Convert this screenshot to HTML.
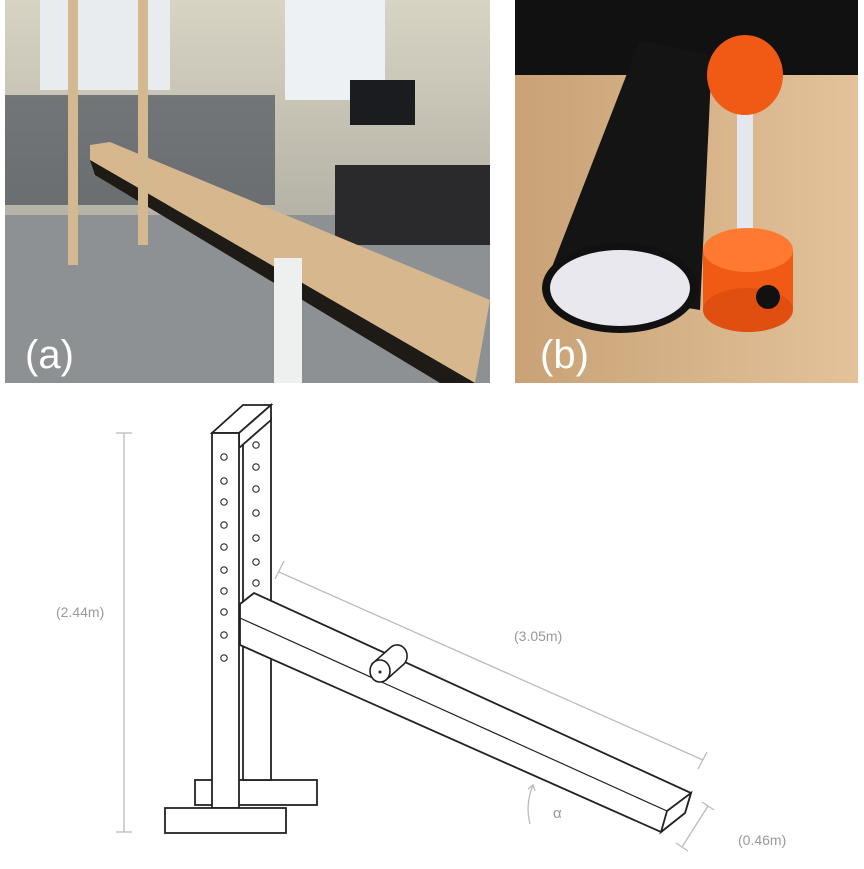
<!DOCTYPE html>
<html><head><style>
body{margin:0;background:#fff;width:864px;height:864px;overflow:hidden;font-family:"Liberation Sans",sans-serif}
</style></head><body>
<svg width="864" height="864" viewBox="0 0 864 864" xmlns="http://www.w3.org/2000/svg">
<!-- photo a -->
<defs>
<linearGradient id="wall" x1="0" y1="0" x2="0" y2="1"><stop offset="0" stop-color="#d8d4c4"/><stop offset="1" stop-color="#9a9890"/></linearGradient>
<linearGradient id="tbl" x1="0" y1="0" x2="1" y2="0"><stop offset="0" stop-color="#c9a276"/><stop offset="1" stop-color="#e3c29a"/></linearGradient>
</defs>
<rect x="5" y="0" width="485" height="383" fill="url(#wall)"/>
<rect x="5" y="215" width="485" height="168" fill="#8e9194"/>
<rect x="40" y="0" width="130" height="90" fill="#e8ecef"/>
<rect x="285" y="0" width="100" height="100" fill="#eef1f3"/>
<rect x="5" y="95" width="270" height="110" fill="#2c3444" opacity="0.55"/>
<rect x="335" y="165" width="155" height="80" fill="#2a2a2c"/>
<rect x="350" y="80" width="65" height="45" fill="#1a1c20"/>
<polygon points="90,145 110,142 490,300 475,383 90,160" fill="#d7b88e"/>
<polygon points="90,160 475,383 440,383 95,175" fill="#1e1a16"/>
<rect x="68" y="0" width="10" height="265" fill="#d4b890"/>
<rect x="138" y="0" width="10" height="245" fill="#d4b890"/>
<rect x="274" y="258" width="28" height="125" fill="#eef0f0"/>
<text x="25" y="368" font-size="40" fill="#fff">(a)</text>
<!-- photo b -->
<rect x="515" y="0" width="343" height="383" fill="url(#tbl)"/>
<rect x="515" y="0" width="343" height="75" fill="#111"/>
<polygon points="640,40 712,55 700,310 545,285" fill="#141414"/>
<ellipse cx="620" cy="288" rx="78" ry="45" fill="#111"/>
<ellipse cx="620" cy="288" rx="70" ry="38" fill="#e8e8ee"/>
<rect x="737" y="95" width="16" height="175" fill="#e4e8ee"/>
<ellipse cx="745" cy="75" rx="38" ry="40" fill="#f05a14"/>
<rect x="703" y="250" width="90" height="60" fill="#f05a14"/>
<ellipse cx="748" cy="250" rx="45" ry="22" fill="#ff7a30"/>
<ellipse cx="748" cy="310" rx="45" ry="22" fill="#e04e10"/>
<circle cx="768" cy="297" r="12" fill="#111"/>
<text x="540" y="368" font-size="40" fill="#fff">(b)</text>

<!-- diagram -->
<g fill="#fff" stroke="#222" stroke-width="1.8">
<rect x="195" y="780" width="122" height="25"/>
<rect x="243" y="418" width="28" height="362"/>
<polygon points="212,433 239,433 271,405 243,405"/>
<polygon points="239,433 271,405 271,420 239,448"/>
<rect x="212" y="433" width="27" height="375"/>
<rect x="165" y="808" width="121" height="25"/>
<polygon points="240,604 254,593 691,793 685,813 661,832 240,645"/>
<polygon points="667,811 691,793 685,813 661,832" fill="#fff"/>
</g>
<g stroke="#222" stroke-width="1.2" fill="none">
<line x1="240" y1="618" x2="667" y2="811"/>
<line x1="240" y1="604" x2="667" y2="811" stroke="none"/>
<polyline points="240,604 254,593"/>
</g>
<g fill="none" stroke="#333" stroke-width="1.2">
<circle cx="224" cy="457" r="3.2"/><circle cx="224" cy="481" r="3.2"/><circle cx="224" cy="502" r="3.2"/><circle cx="224" cy="525" r="3.2"/><circle cx="224" cy="547" r="3.2"/><circle cx="224" cy="570" r="3.2"/><circle cx="224" cy="591" r="3.2"/><circle cx="224" cy="612" r="3.2"/><circle cx="224" cy="635" r="3.2"/><circle cx="224" cy="658" r="3.2"/>
<circle cx="256" cy="445" r="3.2"/><circle cx="256" cy="467" r="3.2"/><circle cx="256" cy="489" r="3.2"/><circle cx="256" cy="513" r="3.2"/><circle cx="256" cy="538" r="3.2"/><circle cx="256" cy="562" r="3.2"/><circle cx="256" cy="583" r="3.2"/>
</g>
<!-- roller -->
<g stroke="#222" stroke-width="1.6" fill="#fff">
<path d="M372,664 L390,648 A10,11 0 0 1 404,664 L386,680 Z"/>
<ellipse cx="380" cy="671" rx="10" ry="11"/>
</g>
<circle cx="380" cy="672" r="1.5" fill="#222"/>
<!-- dimensions -->
<g stroke="#bbb" stroke-width="1.3" fill="none">
<line x1="279" y1="572" x2="703" y2="760"/>
<line x1="284" y1="561" x2="275" y2="579"/>
<line x1="707" y1="752" x2="698" y2="769"/>
<line x1="124" y1="433" x2="124" y2="832"/>
<line x1="116" y1="433" x2="132" y2="433"/>
<line x1="116" y1="832" x2="132" y2="832"/>
<line x1="708" y1="806" x2="682" y2="847"/>
<line x1="702" y1="802" x2="714" y2="810"/>
<line x1="676" y1="843" x2="688" y2="851"/>
<path d="M530,824 Q525,805 533,785"/>
<path d="M528,789 L533,785 L535,791"/>
</g>
<g fill="#999" font-size="14">
<text x="514" y="641">(3.05m)</text>
<text x="56" y="617">(2.44m)</text>
<text x="738" y="845">(0.46m)</text>
<text x="553" y="818" font-size="15">α</text>
</g>
</svg>
</body></html>
